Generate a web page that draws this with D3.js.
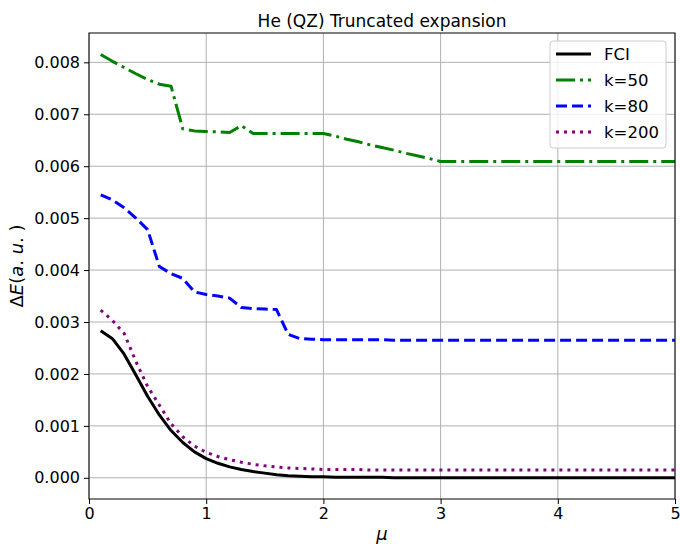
<!DOCTYPE html>
<html>
<head>
<meta charset="utf-8">
<script src="https://cdn.jsdelivr.net/npm/d3@7"></script>
<style>
  html, body { margin: 0; padding: 0; background: #fff; }
  svg { display: block; font-family: "DejaVu Sans", sans-serif; }
</style>
</head>
<body>
<svg id="chart" width="680" height="544"></svg>
<script>
// Range-separation parameter mu
const mu = [0.1,0.2,0.3,0.4,0.5,0.6,0.7,0.8,0.9,1.0,
            1.1,1.2,1.3,1.4,1.5,1.6,1.7,1.8,1.9,2.0,
            2.1,2.2,2.3,2.4,2.5,2.6,2.7,2.8,2.9,3.0,
            3.1,3.2,3.3,3.4,3.5,3.6,3.7,3.8,3.9,4.0,
            4.1,4.2,4.3,4.4,4.5,4.6,4.7,4.8,4.9,5.0];

// Energy errors (a.u.)
const fci = [0.00283,0.00268,0.00238,0.00198,0.00157,0.00121,0.00091,0.00068,0.00050,0.00037,
             0.00028,0.00021,0.00016,0.00012,0.00009,0.00006,0.00004,0.00003,0.00002,0.00002,
             0.00001,0.00001,0.00001,0.00001,0.00001,0.00000,0.00000,0.00000,0.00000,0.00000,
             0.00000,0.00000,0.00000,0.00000,0.00000,0.00000,0.00000,0.00000,0.00000,0.00000,
             0.00000,0.00000,0.00000,0.00000,0.00000,0.00000,0.00000,0.00000,0.00000,0.00000];

const k50 = [0.00815,0.00802,0.00790,0.00778,0.00767,0.00758,0.00754,0.00672,0.00668,0.00667,
             0.00666,0.00665,0.00678,0.00663,0.00663,0.00663,0.00663,0.00663,0.00663,0.00663,
             0.00658,0.00652,0.00647,0.00641,0.00636,0.00631,0.00625,0.00620,0.00615,0.00609,
             0.00609,0.00609,0.00609,0.00609,0.00609,0.00609,0.00609,0.00609,0.00609,0.00609,
             0.00609,0.00609,0.00609,0.00609,0.00609,0.00609,0.00609,0.00609,0.00609,0.00609];

const k80 = [0.00545,0.00535,0.00520,0.00500,0.00478,0.00407,0.00393,0.00384,0.00358,0.00353,
             0.00350,0.00346,0.00328,0.00326,0.00325,0.00324,0.00276,0.00268,0.00267,0.00266,
             0.00266,0.00266,0.00266,0.00266,0.00266,0.00265,0.00265,0.00265,0.00265,0.00265,
             0.00265,0.00265,0.00265,0.00265,0.00265,0.00265,0.00265,0.00265,0.00265,0.00265,
             0.00265,0.00265,0.00265,0.00265,0.00265,0.00265,0.00265,0.00265,0.00265,0.00265];

const k200 = [0.00323,0.00303,0.00278,0.00224,0.00176,0.00140,0.00104,0.00079,0.00061,0.00049,
              0.00041,0.00035,0.00030,0.00026,0.00023,0.00021,0.00019,0.00018,0.00017,0.00016,
              0.00016,0.00016,0.00016,0.00015,0.00015,0.00015,0.00015,0.00015,0.00015,0.00015,
              0.00015,0.00015,0.00015,0.00015,0.00015,0.00015,0.00015,0.00015,0.00015,0.00015,
              0.00015,0.00015,0.00015,0.00015,0.00015,0.00015,0.00015,0.00015,0.00015,0.00015];

const seriesNames = ["FCI", "k=50", "k=80", "k=200"];
const xTicks = [0, 1, 2, 3, 4, 5];
const yTicks = [0.000, 0.001, 0.002, 0.003, 0.004, 0.005, 0.006, 0.007, 0.008];

const series = [
  { name: seriesNames[0], values: fci,  color: "#000000", dash: null },
  { name: seriesNames[1], values: k50,  color: "#008000", dash: "19,5,3,5" },
  { name: seriesNames[2], values: k80,  color: "#0000ff", dash: "11,5" },
  { name: seriesNames[3], values: k200, color: "#800080", dash: "3,5" }
];

const svg = d3.select("#chart");
const plotLeft = 89, plotRight = 675, plotTop = 33, plotBottom = 499;

const x = d3.scaleLinear().domain([0, 5]).range([plotLeft, plotRight]);
const y = d3.scaleLinear().domain([-0.000408, 0.008565]).range([plotBottom, plotTop]);

// Grid
const grid = svg.append("g");
grid.selectAll("line.gx").data(xTicks).join("line")
  .attr("x1", d => x(d)).attr("x2", d => x(d))
  .attr("y1", plotTop).attr("y2", plotBottom)
  .attr("stroke", "#b0b0b0").attr("stroke-width", 1);
grid.selectAll("line.gy").data(yTicks).join("line")
  .attr("x1", plotLeft).attr("x2", plotRight)
  .attr("y1", d => y(d)).attr("y2", d => y(d))
  .attr("stroke", "#b0b0b0").attr("stroke-width", 1);

// Lines
svg.append("clipPath").attr("id", "plotclip")
  .append("rect").attr("x", plotLeft).attr("y", plotTop)
  .attr("width", plotRight - plotLeft).attr("height", plotBottom - plotTop);

const line = d3.line()
  .x((d, i) => x(mu[i]))
  .y(d => y(d));

svg.append("g").attr("clip-path", "url(#plotclip)")
  .selectAll("path").data(series).join("path")
  .attr("d", d => line(d.values))
  .attr("fill", "none")
  .attr("stroke", d => d.color)
  .attr("stroke-width", 3)
  .attr("stroke-dasharray", d => d.dash)
  .attr("stroke-linejoin", "round");

// Axes
const xAxis = d3.axisBottom(x).tickValues(xTicks).tickFormat(d3.format("d"))
  .tickSize(5).tickPadding(4);
const yAxis = d3.axisLeft(y).tickValues(yTicks).tickFormat(d3.format(".3f"))
  .tickSize(5).tickPadding(4);

const gx = svg.append("g").attr("transform", `translate(0,${plotBottom})`).call(xAxis);
const gy = svg.append("g").attr("transform", `translate(${plotLeft},0)`).call(yAxis);
[gx, gy].forEach(g => {
  g.select(".domain").remove();
  g.selectAll(".tick line").attr("stroke", "#000").attr("stroke-width", 1);
  g.selectAll(".tick text").attr("font-size", 16).attr("fill", "#000")
    .attr("font-family", "DejaVu Sans");
});

// Frame
svg.append("rect").attr("x", plotLeft).attr("y", plotTop)
  .attr("width", plotRight - plotLeft).attr("height", plotBottom - plotTop)
  .attr("fill", "none").attr("stroke", "#000").attr("stroke-width", 1);

// Title
svg.append("text").attr("x", (plotLeft + plotRight) / 2).attr("y", 27)
  .attr("text-anchor", "middle").attr("font-size", 17).attr("fill", "#000")
  .text("He (QZ) Truncated expansion");

// Axis labels
const xl = svg.append("text").attr("x", (plotLeft + plotRight) / 2).attr("y", 540)
  .attr("text-anchor", "middle").attr("font-size", 18).attr("fill", "#000");
xl.append("tspan").attr("font-style", "italic").text("μ");

const yl = svg.append("text")
  .attr("transform", `translate(23,${(plotTop + plotBottom) / 2}) rotate(-90)`)
  .attr("text-anchor", "middle").attr("font-size", 18).attr("fill", "#000")
  .attr("xml:space", "preserve");
yl.append("tspan").text("Δ");
yl.append("tspan").attr("font-style", "italic").text("E");
yl.append("tspan").text("(");
yl.append("tspan").attr("font-style", "italic").text("a");
yl.append("tspan").text(". ");
yl.append("tspan").attr("font-style", "italic").text("u");
yl.append("tspan").text(". )");

// Legend
const lg = svg.append("g");
lg.append("rect").attr("x", 550).attr("y", 41).attr("width", 116).attr("height", 107)
  .attr("rx", 3).attr("fill", "#fff").attr("fill-opacity", 0.8)
  .attr("stroke", "#cccccc").attr("stroke-width", 1);
const items = lg.selectAll("g.item").data(series).join("g")
  .attr("transform", (d, i) => `translate(0,${54 + i * 26})`);
items.append("line").attr("x1", 556).attr("x2", 591).attr("y1", 0).attr("y2", 0)
  .attr("stroke", d => d.color).attr("stroke-width", 3)
  .attr("stroke-dasharray", d => d.dash);
items.append("text").attr("x", 604).attr("y", 6).attr("font-size", 16.5).attr("fill", "#000")
  .text(d => d.name);
</script>
</body>
</html>
